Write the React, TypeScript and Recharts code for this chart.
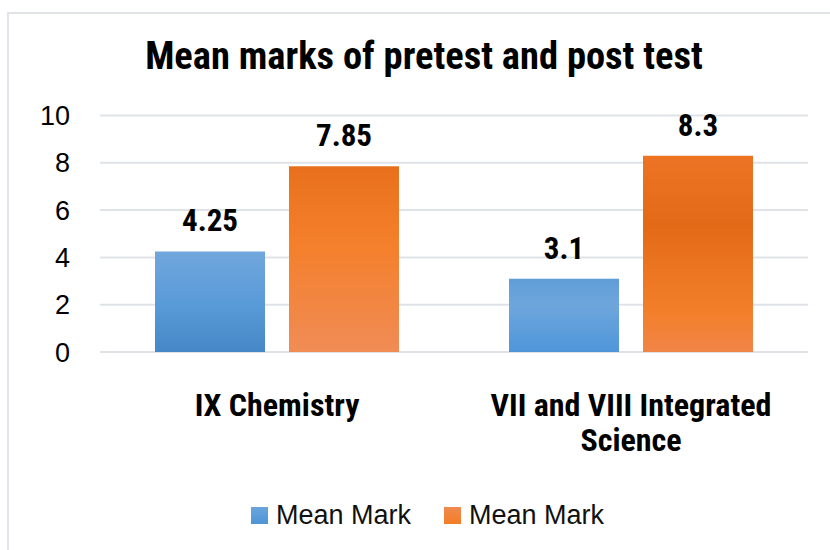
import React from "react";
import { BarChart, Bar, XAxis, YAxis, CartesianGrid, LabelList, Cell } from "recharts";

const categories = ["IX Chemistry", "VII and VIII Integrated Science"];
const pretestValues = [4.25, 3.1];
const posttestValues = [7.85, 8.3];
const seriesNames = ["Mean Mark", "Mean Mark"];
const yTicks = [0, 2, 4, 6, 8, 10];
const title = "Mean marks of pretest and post test";

const data = categories.map((c, i) => ({ name: c, pre: pretestValues[i], post: posttestValues[i] }));

const NARROW = "'Liberation Sans Narrow', 'Arial Narrow', 'Roboto Condensed', 'Liberation Sans', sans-serif";
const REGULAR = "'Liberation Sans', Arial, sans-serif";

const blueStops = [
  [["0%", "#70a7dc"], ["50%", "#5a9bd9"], ["100%", "#4688c7"]],
  [["0%", "#5f9dd8"], ["35%", "#6ea6dc"], ["100%", "#4f96d9"]],
];
const orangeStops = [
  [["0%", "#e8701c"], ["40%", "#f47f2a"], ["100%", "#f08c55"]],
  [["0%", "#ec7424"], ["35%", "#e36a17"], ["80%", "#f37f2a"], ["100%", "#f08548"]],
];

const X_FONT_SIZE = 32;
let measureCtx: CanvasRenderingContext2D | null = null;
function measure(s: string): number {
  if (!measureCtx) {
    const c = document.createElement("canvas");
    measureCtx = c.getContext("2d");
  }
  if (!measureCtx) return s.length * X_FONT_SIZE * 0.45;
  measureCtx.font = `bold ${X_FONT_SIZE}px ${NARROW}`;
  return measureCtx.measureText(s).width;
}
function wrap(s: string, maxW: number): string[] {
  const words = s.split(" ");
  const lines: string[] = [];
  let cur = "";
  for (const w of words) {
    const t = cur ? cur + " " + w : w;
    if (cur && measure(t) > maxW) {
      lines.push(cur);
      cur = w;
    } else cur = t;
  }
  if (cur) lines.push(cur);
  return lines;
}

const XTick = (props: any) => {
  const { x, y, payload } = props;
  const lines = wrap(String(payload.value), 330);
  return (
    <text
      x={x}
      y={y + 64}
      textAnchor="middle"
      fill="#000"
      style={{ fontSize: X_FONT_SIZE, fontWeight: 700, fontFamily: NARROW }}
    >
      {lines.map((l, i) => (
        <tspan key={i} x={x} dy={i === 0 ? 0 : 35}>
          {l}
        </tspan>
      ))}
    </text>
  );
};

export default function App() {
  return (
    <div style={{ position: "absolute", left: 0, top: 0, width: 830, height: 550, background: "#fff", overflow: "hidden" }}>
      <div
        style={{
          position: "absolute",
          left: 7,
          top: 12,
          width: 823,
          height: 538,
          borderTop: "2px solid #e0e4e9",
          borderLeft: "2px solid #e0e4e9",
          boxSizing: "border-box",
        }}
      />
      <div
        style={{
          position: "absolute",
          left: 0,
          top: 31,
          width: 848,
          textAlign: "center",
          fontFamily: NARROW,
          fontWeight: 700,
          fontSize: 38.5,
          lineHeight: "50px",
          color: "#000",
          whiteSpace: "nowrap",
        }}
      >
        {title}
      </div>
      <div style={{ position: "absolute", left: 0, top: 0 }}>
        <BarChart
          width={830}
          height={550}
          data={data}
          margin={{ top: 115.5, right: 22, left: 40, bottom: 98 }}
          barCategoryGap={55}
          barGap={24}
        >
          <defs>
            {blueStops.map((stops, i) => (
              <linearGradient key={"b" + i} id={"blue" + i} x1="0" y1="0" x2="0" y2="1">
                {stops.map(([o, c]) => (
                  <stop key={o} offset={o} stopColor={c} />
                ))}
              </linearGradient>
            ))}
            {orangeStops.map((stops, i) => (
              <linearGradient key={"o" + i} id={"orange" + i} x1="0" y1="0" x2="0" y2="1">
                {stops.map(([o, c]) => (
                  <stop key={o} offset={o} stopColor={c} />
                ))}
              </linearGradient>
            ))}
          </defs>
          <CartesianGrid vertical={false} stroke="#dfe3e8" strokeWidth={2} />
          <XAxis
            dataKey="name"
            axisLine={false}
            tickLine={false}
            height={100}
            interval={0}
            tick={<XTick />}
            tickMargin={0}
            tickSize={0}
          />
          <YAxis
            domain={[0, 10]}
            ticks={yTicks}
            axisLine={false}
            tickLine={false}
            tickSize={0}
            tickMargin={30}
            width={60}
            tick={{ fontSize: 27, fill: "#000", fontFamily: REGULAR }}
          />
          <Bar dataKey="pre" name={seriesNames[0]} isAnimationActive={false}>
            {data.map((d, i) => (
              <Cell key={i} fill={`url(#blue${i})`} />
            ))}
            <LabelList
              dataKey="pre"
              position="top"
              offset={20}
              fill="#000"
              style={{ fontSize: 31, fontWeight: 700, fontFamily: NARROW }}
            />
          </Bar>
          <Bar dataKey="post" name={seriesNames[1]} isAnimationActive={false}>
            {data.map((d, i) => (
              <Cell key={i} fill={`url(#orange${i})`} />
            ))}
            <LabelList
              dataKey="post"
              position="top"
              offset={20}
              fill="#000"
              style={{ fontSize: 31, fontWeight: 700, fontFamily: NARROW }}
            />
          </Bar>
        </BarChart>
      </div>
      <div
        style={{
          position: "absolute",
          left: 251,
          top: 498,
          display: "flex",
          alignItems: "center",
          fontFamily: REGULAR,
          fontSize: 27,
          lineHeight: "34px",
          color: "#111",
          whiteSpace: "nowrap",
        }}
      >
        {seriesNames.map((n, i) => (
          <div key={i} style={{ display: "flex", alignItems: "center", marginRight: i === 0 ? 33 : 0 }}>
            <div
              style={{
                width: 17,
                height: 17,
                marginRight: 8,
                background: i === 0 ? "linear-gradient(#6aa5dc, #4f94d6)" : "linear-gradient(#f08a50, #f47d25)",
              }}
            />
            <span>{n}</span>
          </div>
        ))}
      </div>
    </div>
  );
}
